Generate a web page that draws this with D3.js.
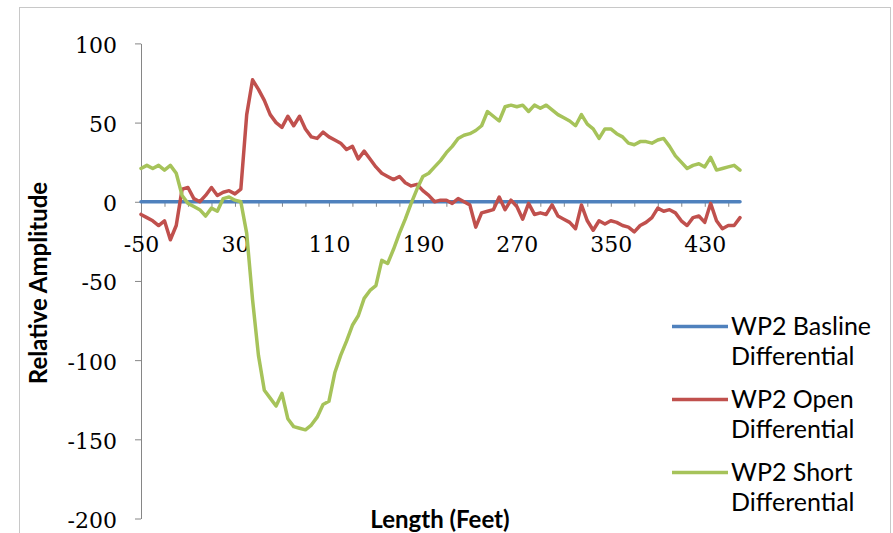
<!DOCTYPE html>
<html>
<head>
<meta charset="utf-8">
<script src="https://cdn.jsdelivr.net/npm/d3@7"></script>
<style>
  html, body { margin: 0; padding: 0; background: #ffffff; }
  svg { display: block; }
</style>
</head>
<body>
<svg id="chart" width="893" height="533"></svg>
<script>
// ---- Data ----
const categories = [
  -50,-45,-40,-35,-30,-25,-20,-15,-10,-5,
  0,5,10,15,20,25,30,35,40,45,
  50,55,60,65,70,75,80,85,90,95,
  100,105,110,115,120,125,130,135,140,145,
  150,155,160,165,170,175,180,185,190,195,
  200,205,210,215,220,225,230,235,240,245,
  250,255,260,265,270,275,280,285,290,295,
  300,305,310,315,320,325,330,335,340,345,
  350,355,360,365,370,375,380,385,390,395,
  400,405,410,415,420,425,430,435,440,445,
  450,455,460
];

const baselineDiff = [
  0,0,0,0,0,0,0,0,0,0,
  0,0,0,0,0,0,0,0,0,0,
  0,0,0,0,0,0,0,0,0,0,
  0,0,0,0,0,0,0,0,0,0,
  0,0,0,0,0,0,0,0,0,0,
  0,0,0,0,0,0,0,0,0,0,
  0,0,0,0,0,0,0,0,0,0,
  0,0,0,0,0,0,0,0,0,0,
  0,0,0,0,0,0,0,0,0,0,
  0,0,0,0,0,0,0,0,0,0,
  0,0,0
];

const openDiff = [
  -8,-10,-12,-15,-12,-24,-15,8,9,2,
  0,4,9,4,6,7,5,8,55,77,
  71,64,55,50,47,54,48,54,46,41,
  40,44,41,39,37,33,35,27,32,27,
  22,18,16,14,16,12,10,11,7,4,
  0,1,1,-1,2,0,-2,-16,-7,-6,
  -5,3,-5,1,-3,-11,-1,-8,-7,-8,
  -2,-9,-11,-13,-17,-2,-12,-18,-12,-14,
  -12,-13,-15,-16,-19,-15,-13,-10,-4,-6,
  -5,-7,-12,-15,-10,-9,-13,-1,-12,-17,
  -15,-15,-10
];

const shortDiff = [
  21,23,21,23,20,23,18,4,-1,-3,
  -5,-9,-4,-6,2,3,1,0,-20,-62,
  -97,-119,-124,-129,-121,-137,-142,-143,-144,-141,
  -136,-128,-126,-108,-97,-88,-78,-72,-61,-56,
  -53,-37,-39,-30,-20,-11,-1,8,16,18,
  22,26,31,35,40,42,43,45,48,57,
  54,51,60,61,60,61,57,61,59,61,
  58,55,53,51,48,55,49,46,40,46,
  46,43,41,37,36,38,38,37,39,40,
  35,29,25,21,23,24,22,28,20,21,
  22,23,20
];

const seriesNames = [
  ["WP2 Basline", "Differential"],
  ["WP2 Open", "Differential"],
  ["WP2 Short", "Differential"]
];
const xTickLabels = [-50, 30, 110, 190, 270, 350, 430];
const yTickLabels = [-200, -150, -100, -50, 0, 50, 100];

// ---- Styles ----
const colors = ["#4f81bd", "#c0504d", "#a6c35a"];
const axisColor = "#868686";
const numFont = "'DejaVu Serif', serif";
const textFont = "Lato, 'Open Sans', sans-serif";

const svg = d3.select("#chart");

// outer chart border
svg.append("rect")
  .attr("x", 19.5).attr("y", 7.5)
  .attr("width", 871).attr("height", 540)
  .attr("fill", "#ffffff")
  .attr("stroke", "#c8c8c8").attr("stroke-width", 1);

const x = d3.scaleLinear().domain([-50, 460]).range([141, 740]);
const y = d3.scaleLinear().domain([-200, 100]).range([518.5, 43.4]);

// Y axis
const yAxis = svg.append("g")
  .attr("transform", "translate(141,0)")
  .call(d3.axisLeft(y).tickValues(yTickLabels).tickSize(6).tickSizeOuter(0).tickFormat(d3.format("d")));
yAxis.select(".domain").attr("stroke", axisColor).attr("stroke-width", 1);
yAxis.selectAll(".tick line").attr("stroke", axisColor);
yAxis.selectAll(".tick text")
  .attr("x", -24).attr("dy", null).attr("y", 9)
  .attr("fill", "#000").attr("font-family", numFont).attr("font-size", 22)
  .text(d => d < 0 ? "-" + Math.abs(d) : d);

// X axis (at value 0)
const tickMarks = categories.filter((d, i) => i % 4 === 0);
const xAxis = svg.append("g")
  .attr("transform", `translate(0,${y(0)})`)
  .call(d3.axisBottom(x).tickValues(tickMarks).tickSize(5).tickSizeOuter(0)
    .tickFormat(d => xTickLabels.includes(d) ? (d < 0 ? "-" + Math.abs(d) : d) : ""));
xAxis.select(".domain").attr("stroke", axisColor).attr("stroke-width", 1);
xAxis.selectAll(".tick line").attr("stroke", axisColor);
xAxis.selectAll(".tick text")
  .attr("y", 50).attr("dy", null)
  .attr("fill", "#000").attr("font-family", numFont).attr("font-size", 22);

// series lines
const allSeries = [baselineDiff, openDiff, shortDiff];
const line = d3.line()
  .x((d, i) => x(categories[i]))
  .y(d => y(d));

allSeries.forEach((vals, k) => {
  svg.append("path")
    .datum(vals)
    .attr("fill", "none")
    .attr("stroke", colors[k])
    .attr("stroke-width", 3.5)
    .attr("stroke-linejoin", "round")
    .attr("stroke-linecap", "round")
    .attr("d", line);
});

// axis titles
svg.append("text")
  .attr("transform", "translate(47,283) rotate(-90)")
  .attr("text-anchor", "middle")
  .attr("font-family", textFont).attr("font-weight", 700).attr("font-size", 24)
  .attr("fill", "#000")
  .text("Relative Amplitude");

svg.append("text")
  .attr("x", 440).attr("y", 528)
  .attr("text-anchor", "middle")
  .attr("font-family", textFont).attr("font-weight", 700).attr("font-size", 24)
  .attr("fill", "#000")
  .text("Length (Feet)");

// legend
const legend = svg.append("g");
seriesNames.forEach((name, k) => {
  const base = 335 + k * 73;
  legend.append("line")
    .attr("x1", 672).attr("x2", 728)
    .attr("y1", base - 8.5).attr("y2", base - 8.5)
    .attr("stroke", colors[k]).attr("stroke-width", 3.5);
  const t = legend.append("text")
    .attr("font-family", textFont).attr("font-size", 25)
    .attr("fill", "#000");
  t.append("tspan").attr("x", 731).attr("y", base).text(name[0]);
  t.append("tspan").attr("x", 731).attr("y", base + 30).text(name[1]);
});
</script>
</body>
</html>
